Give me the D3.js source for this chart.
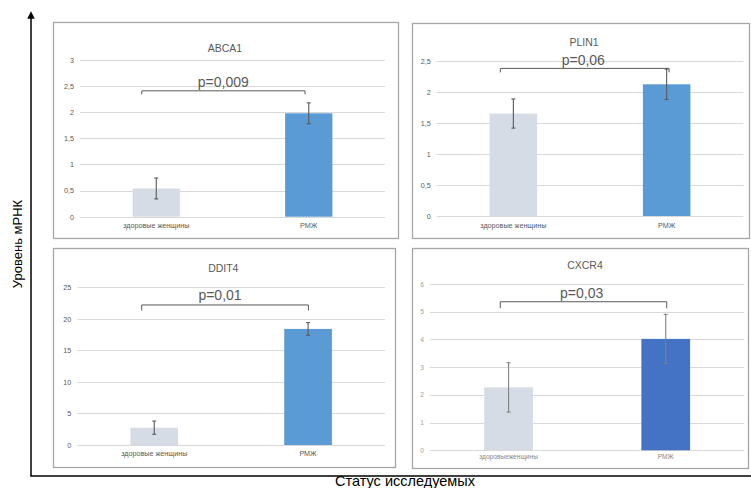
<!DOCTYPE html>
<html><head><meta charset="utf-8">
<script src="https://cdn.jsdelivr.net/npm/d3@7"></script>
<style>body{margin:0;background:#fff}svg{display:block}</style>
</head><body>
<svg id="c" width="751" height="488"></svg>
<script>
// ---- data ----
const genes = ["ABCA1", "PLIN1", "DDIT4", "CXCR4"];
const categories = ["здоровые женщины", "РМЖ"];
const healthyValues = [0.54, 1.65, 2.75, 2.27];
const healthyErrors = [0.20, 0.235, 1.05, 0.89];
const cancerValues = [1.98, 2.12, 18.4, 4.02];
const cancerErrors = [0.20, 0.245, 1.0, 0.885];
const pValues = ["p=0,009", "p=0,06", "p=0,01", "p=0,03"];
const yMaxes = [3, 2.5, 25, 6];
const tickValues = [
  [0, 0.5, 1, 1.5, 2, 2.5, 3],
  [0, 0.5, 1, 1.5, 2, 2.5],
  [0, 5, 10, 15, 20, 25],
  [0, 1, 2, 3, 4, 5, 6]
];
const bracketLevels = [2.41, 2.376, 22.2, 5.36];
const yAxisTitle = "Уровень мРНК";
const xAxisTitle = "Статус исследуемых";

// ---- layout ----
const panels = [
  {box:[53,22,398,238], px:[80,385], py:[216.7,60], title:[225,52], p:[223.3,86.5], br:[-14.5,-3.75], tk:3.5, catDy:16, cancerColor:"#5B9BD5", errColor:"#595959", fs:7.2},
  {box:[412,23,749,238], px:[436.7,743.3], py:[216,60.7], title:[584,45.5], p:[583.3,65], br:[-13,2.4], tk:4, catDy:16.5, cancerColor:"#5B9BD5", errColor:"#595959", fs:7.2},
  {box:[53,248,395,467], px:[77.3,385], py:[445,287.3], title:[223.3,272], p:[220,300], br:[-12.5,0.3], tk:5.5, catDy:15.5, cancerColor:"#5B9BD5", errColor:"#595959", fs:7.2},
  {box:[412,248,748,468], px:[430,744.3], py:[450.3,284], title:[585,268.5], p:[581.7,298], br:[-8.3,1], tk:6.5, catDy:13.5, cancerColor:"#4472C4", errColor:"#808080", fs:6.6}
];
const healthyColor = "#D6DCE5";
const fmt = v => String(v).replace(".", ",");

const svg = d3.select("#c");
const font = "'Liberation Sans', Arial, sans-serif";

genes.forEach((g, i) => {
  const L = panels[i];
  const gp = svg.append("g");
  gp.append("rect").attr("x", L.box[0]+0.5).attr("y", L.box[1]+0.5)
    .attr("width", L.box[2]-L.box[0]).attr("height", L.box[3]-L.box[1])
    .attr("fill", "#fff").attr("stroke", "#a6a6a6").attr("stroke-width", 1.3);

  const x = d3.scaleBand().domain(categories).range(L.px).paddingInner(0.69).paddingOuter(0.345);
  const y = d3.scaleLinear().domain([0, yMaxes[i]]).range(L.py);

  // gridlines
  gp.append("g").selectAll("line").data(tickValues[i]).join("line")
    .attr("x1", L.px[0]).attr("x2", L.px[1])
    .attr("y1", d => Math.round(y(d))+0.5).attr("y2", d => Math.round(y(d))+0.5)
    .attr("stroke", "#d9d9d9").attr("stroke-width", 1);

  // y axis labels
  const ya = d3.axisLeft(y).tickValues(tickValues[i]).tickFormat(fmt).tickSize(0).tickPadding(6);
  const yg = gp.append("g").attr("transform", `translate(${L.px[0]},0)`).call(ya);
  yg.select(".domain").remove();
  yg.selectAll("text").attr("font-family", font).attr("font-size", L.fs).attr("fill", i===3 ? "#a0a0a0" : "#595959");

  // category labels
  const xa = d3.axisBottom(x).tickSize(0).tickPadding(0);
  const xg = gp.append("g").attr("transform", `translate(0,${L.py[0]+L.catDy-7})`).call(xa);
  xg.select(".domain").remove();
  xg.selectAll("text").attr("font-family", font).attr("font-size", L.fs).attr("fill", i===3 ? "#8a8a8a" : "#595959")
    .attr("word-spacing", i===3 ? -2 : 0).attr("dy", "0.3em");

  const vals = [healthyValues[i], cancerValues[i]];
  const errs = [healthyErrors[i], cancerErrors[i]];
  const cols = [healthyColor, L.cancerColor];

  gp.append("g").selectAll("rect").data(categories).join("rect")
    .attr("x", d => x(d)).attr("width", x.bandwidth())
    .attr("y", (d, k) => y(vals[k])).attr("height", (d, k) => y(0) - y(vals[k]))
    .attr("fill", (d, k) => cols[k]);

  // error bars
  const eg = gp.append("g").attr("stroke", L.errColor).attr("stroke-width", 1.1).attr("fill", "none");
  categories.forEach((c, k) => {
    const cx = x(c) + x.bandwidth()/2;
    const hi = y(vals[k] + errs[k]), lo = y(vals[k] - errs[k]);
    eg.append("line").attr("x1", cx).attr("x2", cx).attr("y1", hi).attr("y2", lo);
    eg.append("line").attr("x1", cx-2).attr("x2", cx+2).attr("y1", hi).attr("y2", hi);
    eg.append("line").attr("x1", cx-2).attr("x2", cx+2).attr("y1", lo).attr("y2", lo);
  });

  // title
  gp.append("text").attr("x", L.title[0]).attr("y", L.title[1]).attr("text-anchor", "middle")
    .attr("font-family", font).attr("font-size", 10.5).attr("fill", "#595959").text(g);

  // bracket
  const bx1 = x(categories[0]) + x.bandwidth()/2 + L.br[0];
  const bx2 = x(categories[1]) + x.bandwidth()/2 + L.br[1];
  const by = y(bracketLevels[i]);
  gp.append("path").attr("d", `M${bx1},${by+L.tk}V${by}H${bx2}V${by+L.tk}`)
    .attr("fill", "none").attr("stroke", "#595959").attr("stroke-width", 1);

  gp.append("text").attr("x", L.p[0]).attr("y", L.p[1]).attr("text-anchor", "middle")
    .attr("font-family", font).attr("font-size", 14).attr("fill", "#595959").text(pValues[i]);
});

// main axes
svg.append("defs").append("marker").attr("id", "arr").attr("viewBox", "0 0 10 10")
  .attr("refX", 5).attr("refY", 5).attr("markerWidth", 5).attr("markerHeight", 5).attr("orient", "auto")
  .append("path").attr("d", "M0,0L10,5L0,10z").attr("fill", "#000");
svg.append("line").attr("x1", 31).attr("x2", 31).attr("y1", 476).attr("y2", 15)
  .attr("stroke", "#000").attr("stroke-width", 1.5).attr("marker-end", "url(#arr)");
svg.append("line").attr("x1", 30.25).attr("x2", 751).attr("y1", 476).attr("y2", 476)
  .attr("stroke", "#000").attr("stroke-width", 1.5);

svg.append("text").attr("transform", "translate(22,244) rotate(-90)").attr("text-anchor", "middle")
  .attr("font-family", font).attr("font-size", 13).attr("fill", "#000").text(yAxisTitle);
svg.append("text").attr("x", 405).attr("y", 486).attr("text-anchor", "middle")
  .attr("font-family", font).attr("font-size", 14.5).attr("fill", "#000").text(xAxisTitle);
</script>
</body></html>
